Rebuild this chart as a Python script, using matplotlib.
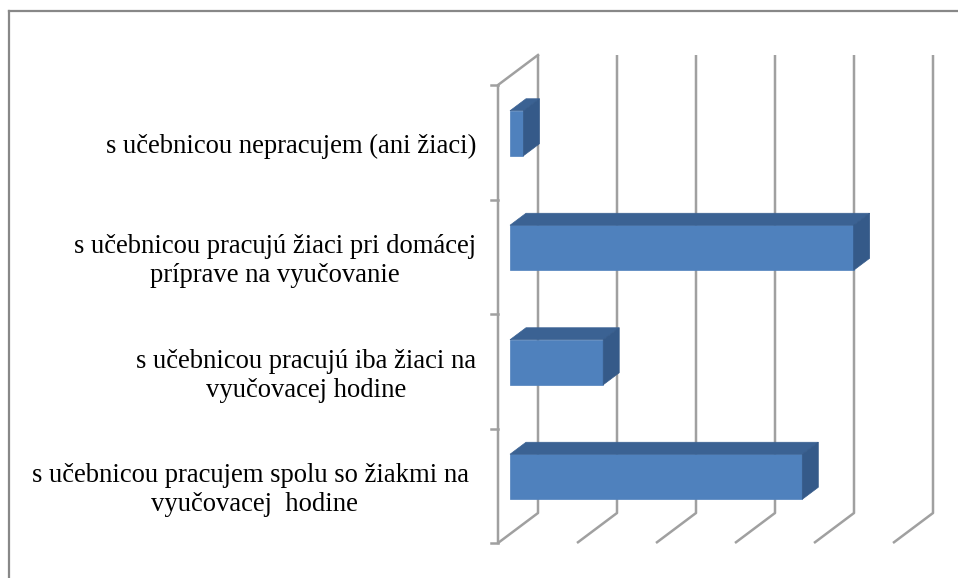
import matplotlib
matplotlib.use("Agg")
import matplotlib.pyplot as plt
from matplotlib.patches import Polygon
from matplotlib.lines import Line2D

# ---- data ----
categories = [
    "s učebnicou nepracujem (ani žiaci)",
    "s učebnicou pracujú žiaci pri domácej\npríprave na vyučovanie",
    "s učebnicou pracujú iba žiaci na\nvyučovacej hodine",
    "s učebnicou pracujem spolu so žiakmi na \nvyučovacej  hodine",
]
values = [1.7, 43.5, 11.8, 37.0]
grid_values = [0, 10, 20, 30, 40, 50]

# ---- style ----
W, H, DPI = 958, 578, 100
front_col = "#4F81BD"
top_col = "#3B6293"
side_col = "#355A89"
grid_col = "#A0A0A0"
frame_col = "#888888"

fig = plt.figure(figsize=(W / DPI, H / DPI), dpi=DPI)
fig.patch.set_facecolor("white")
ax = fig.add_axes([0, 0, 1, 1])
ax.set_axis_off()

# pixel scales used to set up the data window
px_per_unit_x = 7.9      # 79 px per 10 units
px_per_cat = 114.5
x0_px, ytop_px = 498, 85
ax.set_xlim(-x0_px / px_per_unit_x, (W - x0_px) / px_per_unit_x)
ax.set_ylim(3.5 + (H - 543) / px_per_cat, -0.5 - ytop_px / px_per_cat)

# 3D depth offsets (data units)
dxd = 40 / px_per_unit_x
dyd = -30 / px_per_cat
n = len(categories)
y_lo, y_hi = -0.5, n - 0.5

lw = 1.8
# gridlines on back wall + floor slants
for v in grid_values:
    ax.plot([v + dxd, v + dxd, v], [y_lo + dyd, y_hi + dyd, y_hi],
            color=grid_col, lw=lw, solid_capstyle="butt", zorder=1)
# left axis with top slant
ax.plot([dxd, 0, 0], [y_lo + dyd, y_lo, y_hi], color=grid_col, lw=lw, zorder=1)
# ticks on left axis
for k in range(n + 1):
    yy = y_lo + k
    ax.plot([-7 / px_per_unit_x, 0], [yy, yy], color=grid_col, lw=lw, zorder=1)

# bars
f0, f1 = 0.3, 0.7
bh = 45 / px_per_cat
for i, v in enumerate(values):
    xa = f0 * dxd
    xb = v + f0 * dxd
    yt = i - bh / 2 + f0 * dyd
    yb = i + bh / 2 + f0 * dyd
    ddx = (f1 - f0) * dxd
    ddy = (f1 - f0) * dyd
    front = Polygon([(xa, yt), (xb, yt), (xb, yb), (xa, yb)], closed=True,
                    facecolor=front_col, edgecolor=front_col, lw=0.5, zorder=3)
    top = Polygon([(xa, yt), (xb, yt), (xb + ddx, yt + ddy), (xa + ddx, yt + ddy)],
                  closed=True, facecolor=top_col, edgecolor=top_col, lw=0.5, zorder=3)
    side = Polygon([(xb, yt), (xb + ddx, yt + ddy), (xb + ddx, yb + ddy), (xb, yb)],
                   closed=True, facecolor=side_col, edgecolor=side_col, lw=0.5, zorder=3)
    for p in (front, top, side):
        ax.add_patch(p)

# category labels
label_x = (476 - x0_px) / px_per_unit_x
for i, lab in enumerate(categories):
    ax.text(label_x, i + 0.04, lab, ha="right", va="center", multialignment="center",
            fontsize=19.2, family="Liberation Serif", color="black", linespacing=1.2,
            zorder=4)

# outer frame (partially cut off on right/bottom)
fig.add_artist(Line2D([9 / W, 9 / W], [0, 1 - 11 / H], transform=fig.transFigure,
                      color=frame_col, lw=1.6))
fig.add_artist(Line2D([9 / W, 1], [1 - 11 / H, 1 - 11 / H], transform=fig.transFigure,
                      color=frame_col, lw=1.6))

fig.savefig("out.png", dpi=DPI)
